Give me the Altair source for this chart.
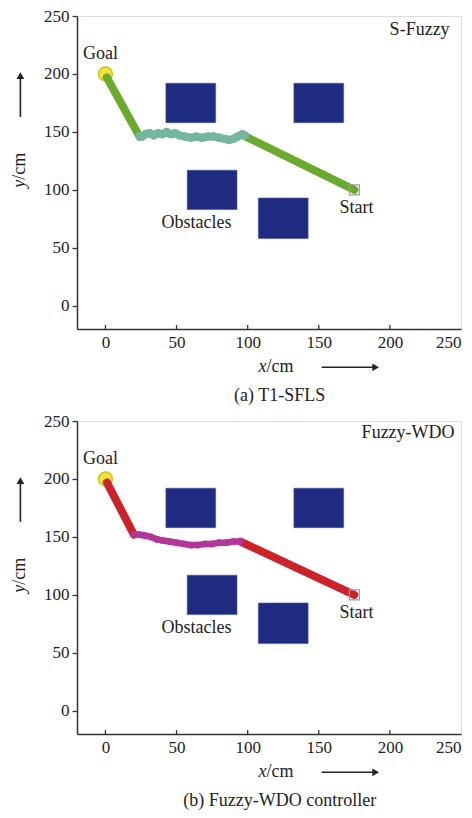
import altair as alt
import pandas as pd

# ---------------- data ----------------
X_TICKS = [0, 50, 100, 150, 200, 250]
Y_TICKS = [0, 50, 100, 150, 200, 250]
X_INNER_TICKS = [0, 50, 100, 150, 200]

OBS_X1 = [42.5, 132.5, 57.5, 107.5]
OBS_X2 = [77.5, 167.5, 92.5, 142.5]
OBS_Y1 = [158, 158, 83, 58]
OBS_Y2 = [192, 192, 117, 93]

GOAL_X, GOAL_Y = [0], [200]
START_X, START_Y = [175], [100]

# S-Fuzzy path (three pieces)
SF_A_X = [1, 24]
SF_A_Y = [197, 146]
SF_W_X = [24, 26, 28, 31, 34, 37, 40, 43, 46, 49, 52, 56, 60, 64, 68, 72, 76, 80, 84, 87, 90, 93, 96, 98]
SF_W_Y = [146, 146, 148, 149, 147, 149, 148, 150, 148, 149, 147, 146, 145, 146, 145, 146, 146, 145, 144, 143, 144, 146, 148, 147]
SF_B_X = [97, 175]
SF_B_Y = [147, 100]

# Fuzzy-WDO path (three pieces)
WD_A_X = [1, 20]
WD_A_Y = [197, 152]
WD_W_X = [20, 24, 28, 32, 36, 40, 45, 50, 55, 60, 65, 70, 75, 80, 85, 90, 95]
WD_W_Y = [152, 152, 151, 150, 148, 147, 146, 145, 144, 143, 143, 144, 144, 145, 145, 146, 146]
WD_B_X = [95, 175]
WD_B_Y = [146, 100]

FONT = "Liberation Serif"
TXT = "#222222"
FRAME = "#333333"
NAVY = "#1f2b80"

W, H = 384, 313
XDOM = [-20, 250]
YDOM = [-20, 250]


def path_df(ax, ay, wx, wy, bx, by):
    rows = []
    for seg, xs, ys in (("a", ax, ay), ("w", wx, wy), ("b", bx, by)):
        for i, (x, y) in enumerate(zip(xs, ys)):
            rows.append({"seg": seg, "i": i, "x": x, "y": y})
    return pd.DataFrame(rows)


def panel(pdf, main_col, wander_col, wander_w, name, name_x, name_y, caption):
    xs = alt.Scale(domain=XDOM, nice=False, zero=False)
    ys = alt.Scale(domain=YDOM, nice=False, zero=False)

    obs = pd.DataFrame({"x1": OBS_X1, "x2": OBS_X2, "y1": OBS_Y1, "y2": OBS_Y2})
    rects = alt.Chart(obs).mark_rect(color=NAVY, stroke="#4a56a0", strokeWidth=0.6).encode(
        x=alt.X("x1:Q", scale=xs,
                axis=alt.Axis(values=X_TICKS, ticks=False, tickSize=0, labelPadding=5,
                              labelFont=FONT, labelFontSize=17, labelColor=TXT,
                              domainColor=FRAME, domainWidth=1.5, grid=False, title=None)),
        x2="x2:Q",
        y=alt.Y("y1:Q", scale=ys,
                axis=alt.Axis(values=Y_TICKS, ticks=True, tickSize=5, tickColor=FRAME,
                              tickWidth=1.3, labelPadding=3,
                              labelFont=FONT, labelFontSize=17, labelColor=TXT,
                              domainColor=FRAME, domainWidth=1.5, grid=False, title=None)),
        y2="y2:Q",
    )

    inner = alt.Chart(pd.DataFrame({"t": X_INNER_TICKS})).mark_rule(
        color=FRAME, strokeWidth=1.3).encode(
        x=alt.X("t:Q", scale=xs), y=alt.datum(-20), y2=alt.datum(-16.6))

    goal = alt.Chart(pd.DataFrame({"x": GOAL_X, "y": GOAL_Y})).mark_point(
        shape="circle", size=190, filled=True, fill="#f2e53c", stroke="#d2bf18",
        strokeWidth=1.5, opacity=1).encode(x=alt.X("x:Q", scale=xs), y=alt.Y("y:Q", scale=ys))

    main_lines = alt.Chart(pdf[pdf.seg != "w"]).mark_line(
        strokeWidth=8, strokeCap="round", color=main_col).encode(
        x=alt.X("x:Q", scale=xs), y=alt.Y("y:Q", scale=ys),
        detail="seg:N", order="i:Q")
    wander_line = alt.Chart(pdf[pdf.seg == "w"]).mark_line(
        strokeWidth=wander_w, strokeCap="round", strokeJoin="round", color=wander_col).encode(
        x=alt.X("x:Q", scale=xs), y=alt.Y("y:Q", scale=ys), order="i:Q")
    wander_pts = alt.Chart(pdf[pdf.seg == "w"]).mark_point(
        shape="circle", size=wander_w * wander_w * 1.1, filled=True, color=wander_col,
        opacity=1).encode(
        x=alt.X("x:Q", scale=xs), y=alt.Y("y:Q", scale=ys))

    start = alt.Chart(pd.DataFrame({"x": START_X, "y": START_Y})).mark_point(
        shape="square", size=100, filled=False, stroke="#9a9a9a", strokeWidth=1.2,
        opacity=1).encode(x=alt.X("x:Q", scale=xs), y=alt.Y("y:Q", scale=ys))

    def txt(s, x, y, align="center", style="normal", angle=0):
        return alt.Chart(pd.DataFrame({"x": [x], "y": [y], "s": [s]})).mark_text(
            font=FONT, fontSize=18, color=TXT, align=align, baseline="middle",
            fontStyle=style, angle=angle).encode(
            x=alt.X("x:Q", scale=xs), y=alt.Y("y:Q", scale=ys), text="s:N")

    labels = [
        txt("Goal", -3.5, 217),
        txt("Start", 176.5, 84.8),
        txt("Obstacles", 64, 71.5),
        txt(name, name_x, name_y, align="right"),
        txt("x", 113.2, -53, align="right", style="italic"),
        txt("/cm", 113.2, -53, align="left"),
        txt("y", -59.8, 108.7, align="right", style="italic", angle=270),
        txt("/cm", -59.8, 108.7, align="left", angle=270),
        txt(caption, 122.5, -78),
    ]

    xarrow = alt.Chart(pd.DataFrame({"x": [152], "x2": [188], "y": [-53]})).mark_rule(
        color=TXT, strokeWidth=1.6).encode(
        x=alt.X("x:Q", scale=xs), x2="x2:Q", y=alt.Y("y:Q", scale=ys))
    xhead = alt.Chart(pd.DataFrame({"x": [190], "y": [-53]})).mark_point(
        shape="triangle-right", size=60, filled=True, color=TXT, opacity=1).encode(
        x=alt.X("x:Q", scale=xs), y=alt.Y("y:Q", scale=ys))
    yarrow = alt.Chart(pd.DataFrame({"x": [-59.8], "y": [163], "y2": [196]})).mark_rule(
        color=TXT, strokeWidth=1.6).encode(
        x=alt.X("x:Q", scale=xs), y=alt.Y("y:Q", scale=ys), y2="y2:Q")
    yhead = alt.Chart(pd.DataFrame({"x": [-59.8], "y": [198.5]})).mark_point(
        shape="triangle-up", size=60, filled=True, color=TXT, opacity=1).encode(
        x=alt.X("x:Q", scale=xs), y=alt.Y("y:Q", scale=ys))

    return alt.layer(rects, inner, goal, main_lines, wander_line, wander_pts, start,
                     xarrow, xhead, yarrow, yhead, *labels).properties(width=W, height=H)


top = panel(path_df(SF_A_X, SF_A_Y, SF_W_X, SF_W_Y, SF_B_X, SF_B_Y),
            "#6aab2e", "#74b79e", 8, "S-Fuzzy", 242, 237.6, "(a) T1-SFLS")
bottom = panel(path_df(WD_A_X, WD_A_Y, WD_W_X, WD_W_Y, WD_B_X, WD_B_Y),
               "#cc2229", "#b3379a", 6.5, "Fuzzy-WDO", 245.5, 239.5, "(b) Fuzzy-WDO controller")

chart = alt.vconcat(top, bottom, spacing=5).properties(
    padding={"left": 2, "top": -2, "right": 0, "bottom": 0}
).configure_view(stroke=FRAME, strokeWidth=1.5).configure(background="white")

chart.save("out.html", embed_options={"renderer": "svg", "actions": False})
